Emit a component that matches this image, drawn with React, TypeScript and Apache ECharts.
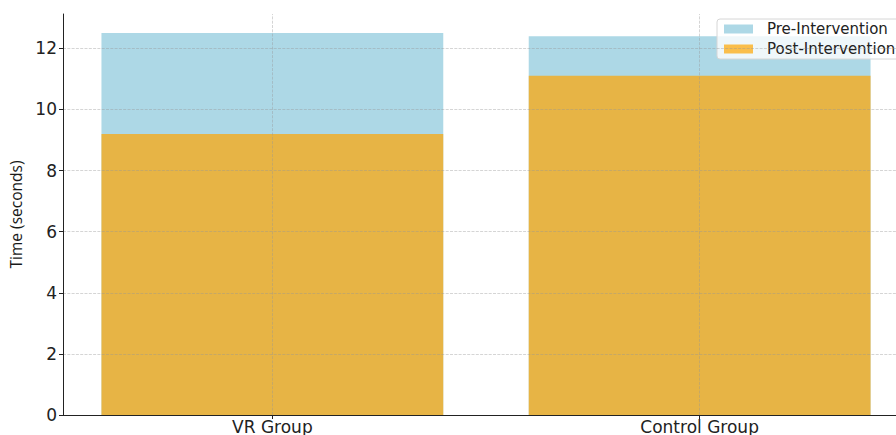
import React, { useEffect, useRef } from "react";
import * as echarts from "echarts";

const categories = ["VR Group", "Control Group"];
const preValues = [12.5, 12.4];
const postValues = [9.2, 11.1];
const yTicks = [0, 2, 4, 6, 8, 10, 12];
const seriesNames = ["Pre-Intervention", "Post-Intervention"];

export default function App() {
  const ref = useRef<HTMLDivElement>(null);
  useEffect(() => {
    document.body.style.margin = "0";
    document.body.style.overflow = "hidden";
    const chart = echarts.init(ref.current!, null, { renderer: "svg" });
    const catIdx = categories.map((_, i) => i);
    const gridStyle = { color: "rgba(150,150,150,0.5)", width: 0.8, type: [3, 1.3] as any };
    chart.setOption({
      animation: false,
      textStyle: { fontFamily: "DejaVu Sans" },
      grid: { left: 63, right: 0, top: 14, bottom: 14 },
      legend: {
        data: seriesNames,
        orient: "vertical",
        left: 717,
        top: 19,
        padding: [2, 7, 2, 7],
        itemGap: 4,
        itemWidth: 29,
        itemHeight: 9,
        icon: "rect",
        backgroundColor: "rgba(255,255,255,0.8)",
        borderColor: "#d6d6d6",
        borderWidth: 1,
        borderRadius: 3,
        textStyle: { fontSize: 15, lineHeight: 16, color: "#222", fontFamily: "DejaVu Sans", padding: [0, 0, 0, 9] },
      },
      xAxis: {
        type: "value",
        min: -0.49,
        max: 1.49,
        z: 5,
        axisLine: { show: true, onZero: false, lineStyle: { color: "#222", width: 1 } },
        axisTick: { show: true, customValues: catIdx, length: 4, lineStyle: { color: "#222" } },
        axisLabel: {
          customValues: catIdx,
          formatter: (v: number) => categories[Math.round(v)] ?? "",
          fontSize: 17,
          color: "#222",
          margin: 3,
          fontFamily: "DejaVu Sans",
        },
        splitLine: { show: false },
      },
      yAxis: {
        type: "value",
        min: 0,
        max: 13.125,
        z: 5,
        name: "Time (seconds)",
        nameLocation: "middle",
        nameGap: 36,
        nameTextStyle: { fontSize: 15.5, color: "#1a1a1a", fontFamily: "Open Sans" },
        axisLine: { show: true, onZero: false, lineStyle: { color: "#222", width: 1 } },
        axisTick: { show: true, customValues: yTicks, length: 4, lineStyle: { color: "#222" } },
        axisLabel: { customValues: yTicks, fontSize: 17, color: "#222", margin: 6, fontFamily: "DejaVu Sans" },
        splitLine: { show: false },
      },
      series: [
        {
          name: seriesNames[0],
          type: "bar",
          data: preValues.map((v, i) => [i, v]),
          barWidth: "80%",
          barGap: "-100%",
          itemStyle: { color: "#ADD8E6" },
          z: 2,
        },
        {
          name: seriesNames[1],
          type: "bar",
          data: postValues.map((v, i) => [i, v]),
          barWidth: "80%",
          barGap: "-100%",
          itemStyle: { color: "rgba(255,165,0,0.7)" },
          z: 3,
        },
        {
          name: "grid",
          type: "line",
          data: [],
          z: 4,
          silent: true,
          markLine: {
            silent: true,
            symbol: "none",
            animation: false,
            label: { show: false },
            lineStyle: gridStyle,
            data: [
              ...yTicks.slice(1).map((t) => ({ yAxis: t })),
              ...catIdx.map((c) => ({ xAxis: c })),
            ],
          },
        },
      ],
    });
    return () => chart.dispose();
  }, []);
  return <div ref={ref} style={{ width: 909, height: 435 }} />;
}
